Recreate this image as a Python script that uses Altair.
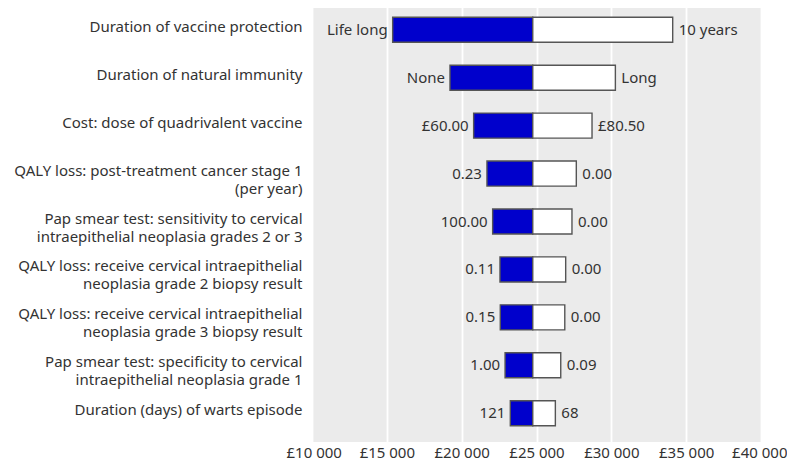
import altair as alt
import pandas as pd

params = [
    "Duration of vaccine protection",
    "Duration of natural immunity",
    "Cost: dose of quadrivalent vaccine",
    "QALY loss: post-treatment cancer stage 1|(per year)",
    "Pap smear test: sensitivity to cervical|intraepithelial neoplasia grades 2 or 3",
    "QALY loss: receive cervical intraepithelial|neoplasia grade 2 biopsy result",
    "QALY loss: receive cervical intraepithelial|neoplasia grade 3 biopsy result",
    "Pap smear test: specificity to cervical|intraepithelial neoplasia grade 1",
    "Duration (days) of warts episode",
]
low_labels = ["Life long", "None", "£60.00", "0.23", "100.00", "0.11", "0.15", "1.00", "121"]
high_labels = ["10 years", "Long", "£80.50", "0.00", "0.00", "0.00", "0.00", "0.09", "68"]
low_values = [15390, 19220, 20800, 21690, 22070, 22560, 22580, 22900, 23250]
high_values = [34100, 30270, 28710, 27660, 27370, 26950, 26890, 26620, 26260]
base_value = 24750
x_ticks = [10000, 15000, 20000, 25000, 30000, 35000, 40000]

df = pd.DataFrame({
    "param": params,
    "low": low_values,
    "high": high_values,
    "low_label": low_labels,
    "high_label": high_labels,
    "base": [base_value] * len(params),
})

FONT = "Noto Sans"
FS = 15
TXT = "#333333"

x_scale = alt.Scale(domain=[10000, 40000], nice=False, zero=False)
y_enc = alt.Y(
    "param:N",
    sort=params,
    title=None,
    scale=alt.Scale(paddingInner=0.478, paddingOuter=0.339),
    axis=alt.Axis(
        labelExpr="split(datum.value, '|')",
        labelFont=FONT, labelFontSize=FS, labelColor=TXT,
        labelBaseline="top", labelOffset=-10, labelLineHeight=18,
        labelPadding=10, ticks=False, domain=False, grid=False, labelLimit=400,
    ),
)
x_axis = alt.Axis(
    values=x_ticks, title=None,
    labelExpr="'£' + replace(format(datum.value, ','), ',', ' ')",
    labelFont=FONT, labelFontSize=FS, labelColor=TXT, labelPadding=3,
    ticks=False, domain=False, grid=True, gridColor="white", gridWidth=1.8,
    labelFlush=True, labelFlushOffset=26,
)

base = alt.Chart(df)

left_bars = base.mark_bar(color="#0000CC", stroke="#555555", strokeWidth=1.4).encode(
    x=alt.X("low:Q", scale=x_scale, axis=x_axis),
    x2="base:Q",
    y=y_enc,
)
right_bars = base.mark_bar(color="white", stroke="#555555", strokeWidth=1.4).encode(
    x=alt.X("base:Q", scale=x_scale),
    x2="high:Q",
    y=alt.Y("param:N", sort=params),
)
left_text = base.mark_text(align="right", baseline="middle", dx=-5, font=FONT, fontSize=FS, color=TXT).encode(
    x=alt.X("low:Q", scale=x_scale),
    y=alt.Y("param:N", sort=params),
    text="low_label:N",
)
right_text = base.mark_text(align="left", baseline="middle", dx=6, font=FONT, fontSize=FS, color=TXT).encode(
    x=alt.X("high:Q", scale=x_scale),
    y=alt.Y("param:N", sort=params),
    text="high_label:N",
)

chart = (left_bars + right_bars + left_text + right_text).properties(
    width=449,
    height=441,
    background="white",
    autosize=alt.AutoSizeParams(type="none"),
    padding={"left": 304, "top": -7, "right": 26, "bottom": 30},
).configure_view(
    fill="#EBEBEB", strokeWidth=0,
)

chart.save("out.html", embed_options={"renderer": "svg", "actions": False})
